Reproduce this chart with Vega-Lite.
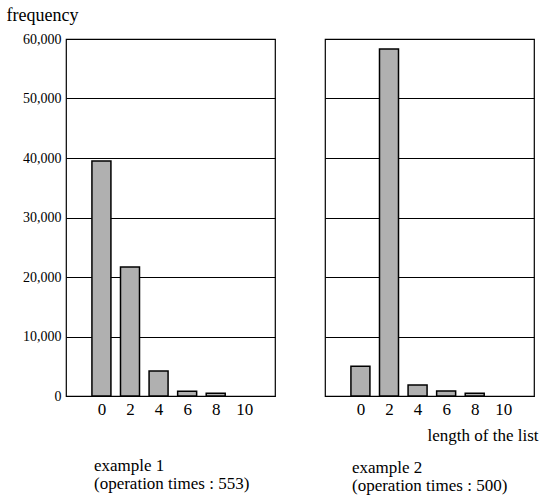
{
  "$schema": "https://vega.github.io/schema/vega-lite/v6.json",
  "padding": {"left": 5, "top": 5, "right": 5, "bottom": 5},
  "background": "white",
  "config": {
    "font": "Liberation Serif",
    "view": {"stroke": "black", "strokeWidth": 1.2},
    "axis": {"gridColor": "black", "gridOpacity": 1, "gridWidth": 1.2, "domain": false, "ticks": false, "labelColor": "black", "titleColor": "black", "labelFont": "Liberation Serif", "titleFont": "Liberation Serif", "titleFontWeight": "normal"},
    "title": {"font": "Liberation Serif", "fontWeight": "normal", "color": "black"}
  },
  "spacing": 48,
  "datasets": {
    "ex1": [
      {"length": 0, "frequency": 39500},
      {"length": 2, "frequency": 21700},
      {"length": 4, "frequency": 4200},
      {"length": 6, "frequency": 800},
      {"length": 8, "frequency": 450}
    ],
    "ex2": [
      {"length": 0, "frequency": 5000},
      {"length": 2, "frequency": 58300},
      {"length": 4, "frequency": 1850},
      {"length": 6, "frequency": 850},
      {"length": 8, "frequency": 450}
    ]
  },
  "hconcat": [
    {
      "width": 209,
      "height": 357,
      "data": {"name": "ex1"},
      "title": {"text": ["example 1", "(operation times : 553)"], "orient": "bottom", "anchor": "start", "frame": "group", "dx": 28, "offset": 41, "fontSize": 17, "lineHeight": 18},
      "mark": {"type": "bar", "orient": "vertical", "width": 19, "fill": "#b0b0b0", "stroke": "black", "strokeWidth": 1.5},
      "encoding": {
        "x": {"field": "length", "type": "quantitative", "scale": {"domain": [-2.13, 11.8], "nice": false, "zero": false}, "axis": {"values": [0, 2, 4, 6, 8, 10], "grid": false, "title": null, "labelFontSize": 17, "labelPadding": 5}},
        "y": {"field": "frequency", "type": "quantitative", "scale": {"domain": [0, 60000], "nice": false}, "axis": {"values": [0, 10000, 20000, 30000, 40000, 50000, 60000], "format": ",d", "labelFontSize": 14, "labelPadding": 5, "title": "frequency", "titleAngle": 0, "titleX": -60, "titleY": -19, "titleAlign": "left", "titleBaseline": "alphabetic", "titleFontSize": 18}}
      }
    },
    {
      "width": 209,
      "height": 357,
      "data": {"name": "ex2"},
      "title": {"text": ["example 2", "(operation times : 500)"], "orient": "bottom", "anchor": "start", "frame": "group", "dx": 27, "offset": 17, "fontSize": 17, "lineHeight": 18},
      "mark": {"type": "bar", "orient": "vertical", "width": 19, "fill": "#b0b0b0", "stroke": "black", "strokeWidth": 1.5},
      "encoding": {
        "x": {"field": "length", "type": "quantitative", "scale": {"domain": [-2.13, 11.8], "nice": false, "zero": false}, "axis": {"values": [0, 2, 4, 6, 8, 10], "grid": false, "title": "length of the list", "titleFontSize": 17, "titleAnchor": "end", "titleAlign": "right", "titleX": 213, "titleY": 44, "titleBaseline": "alphabetic", "labelFontSize": 17, "labelPadding": 5}},
        "y": {"field": "frequency", "type": "quantitative", "scale": {"domain": [0, 60000], "nice": false}, "axis": {"values": [0, 10000, 20000, 30000, 40000, 50000, 60000], "labels": false, "title": null}}
      }
    }
  ]
}
